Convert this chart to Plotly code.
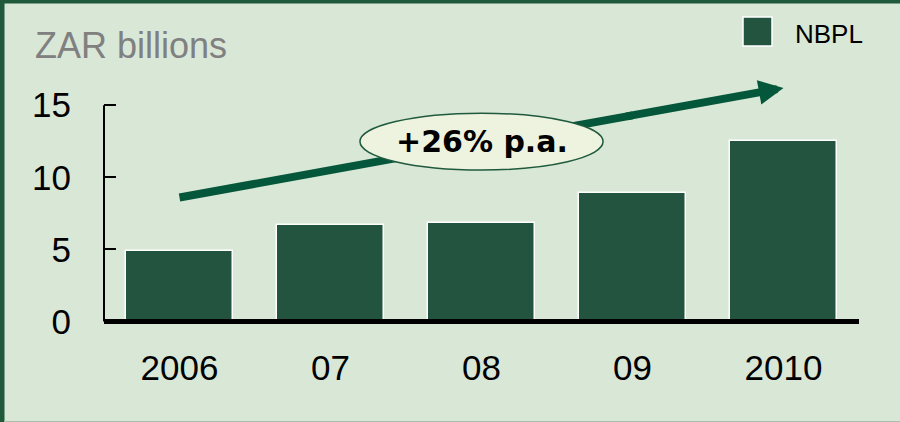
import plotly.graph_objects as go

# ---- data ----
categories = ["2006", "07", "08", "09", "2010"]
values = [4.9, 6.7, 6.8, 8.9, 12.5]
series_name = "NBPL"
y_ticks = [0, 5, 10, 15]
growth_label = "+26% p.a."
unit_label = "ZAR billions"
arrow_start = (0, 8.6)      # (category index, value)
arrow_end = (4, 16.2)

W, H = 900, 422
ML, MR, MT, MB = 104, 41, 62, 97
PW, PH = W - ML - MR, H - MT - MB

def xp(px):
    return (px - ML) / PW

def yp(py):
    return (H - MB - py) / PH

bar_color = "#235440"
arrow_color = "#04573a"
bg = "#d9e7d7"

fig = go.Figure()
fig.add_trace(go.Bar(
    x=list(range(len(categories))), y=values, name=series_name,
    marker=dict(color=bar_color, line=dict(color="white", width=1.5)),
    width=0.715, showlegend=False,
))

# arrow shaft (under ellipse) and arrow head (annotation)
slope = (arrow_end[1] - arrow_start[1]) / (arrow_end[0] - arrow_start[0])
split_x = 3.0
split_y = arrow_start[1] + slope * (split_x - arrow_start[0])

shapes = [
    # frame borders
    dict(type="rect", xref="paper", yref="paper", x0=xp(0), x1=xp(4.5), y0=yp(422), y1=yp(0),
         fillcolor="#1f5a3d", line=dict(width=0), layer="below"),
    dict(type="rect", xref="paper", yref="paper", x0=xp(0), x1=xp(900), y0=yp(3.5), y1=yp(0),
         fillcolor="#1f5a3d", line=dict(width=0), layer="below"),
    dict(type="line", xref="paper", yref="paper", x0=xp(4), x1=xp(900), y0=yp(421.5), y1=yp(421.5),
         line=dict(color="#aebcae", width=1), layer="below"),
    # y axis line from 0 to 15
    dict(type="line", xref="paper", yref="y", x0=0, x1=0, y0=0, y1=max(y_ticks),
         line=dict(color="black", width=2), layer="above"),
    # zero line
    dict(type="line", xref="paper", yref="y", x0=0, x1=1, y0=0, y1=0,
         line=dict(color="black", width=5), layer="above"),
    # arrow shaft
    dict(type="line", xref="x", yref="y", x0=arrow_start[0], y0=arrow_start[1], x1=split_x, y1=split_y,
         line=dict(color=arrow_color, width=8), layer="above"),
    # ellipse
    dict(type="circle", xref="x", yref="y", x0=1.195, x1=2.805, y0=10.5, y1=14.45,
         fillcolor="#eef3e0", line=dict(color="#1f5a3d", width=1.5), layer="above"),
    # legend swatch
    dict(type="rect", xref="paper", yref="paper", x0=xp(743), x1=xp(772), y0=yp(46), y1=yp(17),
         fillcolor=bar_color, line=dict(color="white", width=1.5)),
]

annotations = [
    dict(x=arrow_end[0], y=arrow_end[1], xref="x", yref="y",
         ax=split_x - 0.05, ay=split_y - 0.05 * slope, axref="x", ayref="y",
         text="", showarrow=True, arrowhead=2, arrowsize=0.62, arrowwidth=8,
         arrowcolor=arrow_color, standoff=0, startstandoff=0),
    dict(x=2.0, y=12.5, xref="x", yref="y", text=growth_label, showarrow=False,
         font=dict(family="DejaVu Sans", size=30, color="black", weight="bold")),
    dict(x=xp(33), y=yp(45), xref="paper", yref="paper", xanchor="left", yanchor="middle",
         text=unit_label, showarrow=False,
         font=dict(family="Liberation Sans, Arial", size=36, color="#808080")),
    dict(x=xp(793), y=yp(34), xref="paper", yref="paper", xanchor="left", yanchor="middle",
         text=series_name, showarrow=False,
         font=dict(family="Liberation Sans, Arial", size=26, color="black")),
]

fig.update_layout(
    width=W, height=H,
    margin=dict(l=ML, r=MR, t=MT, b=MB, pad=0),
    paper_bgcolor=bg, plot_bgcolor="rgba(0,0,0,0)",
    shapes=shapes, annotations=annotations,
    showlegend=False,
    bargap=0,
    font=dict(family="Liberation Sans, Arial", size=35, color="black"),
)
fig.update_xaxes(
    range=[-0.5, len(categories) - 0.5],
    tickvals=list(range(len(categories))), ticktext=categories,
    showline=False, showgrid=False, zeroline=False, ticks="",
    tickfont=dict(size=35, color="black"), ticklabelstandoff=19,
)
fig.update_yaxes(
    range=[-0.25, 18], tickvals=y_ticks, showgrid=False, zeroline=False,
    showline=False, ticks="inside", ticklen=12, tickwidth=2, tickcolor="black",
    tickfont=dict(size=35, color="black"), ticklabelstandoff=32,
)

fig.write_html("out.html")
